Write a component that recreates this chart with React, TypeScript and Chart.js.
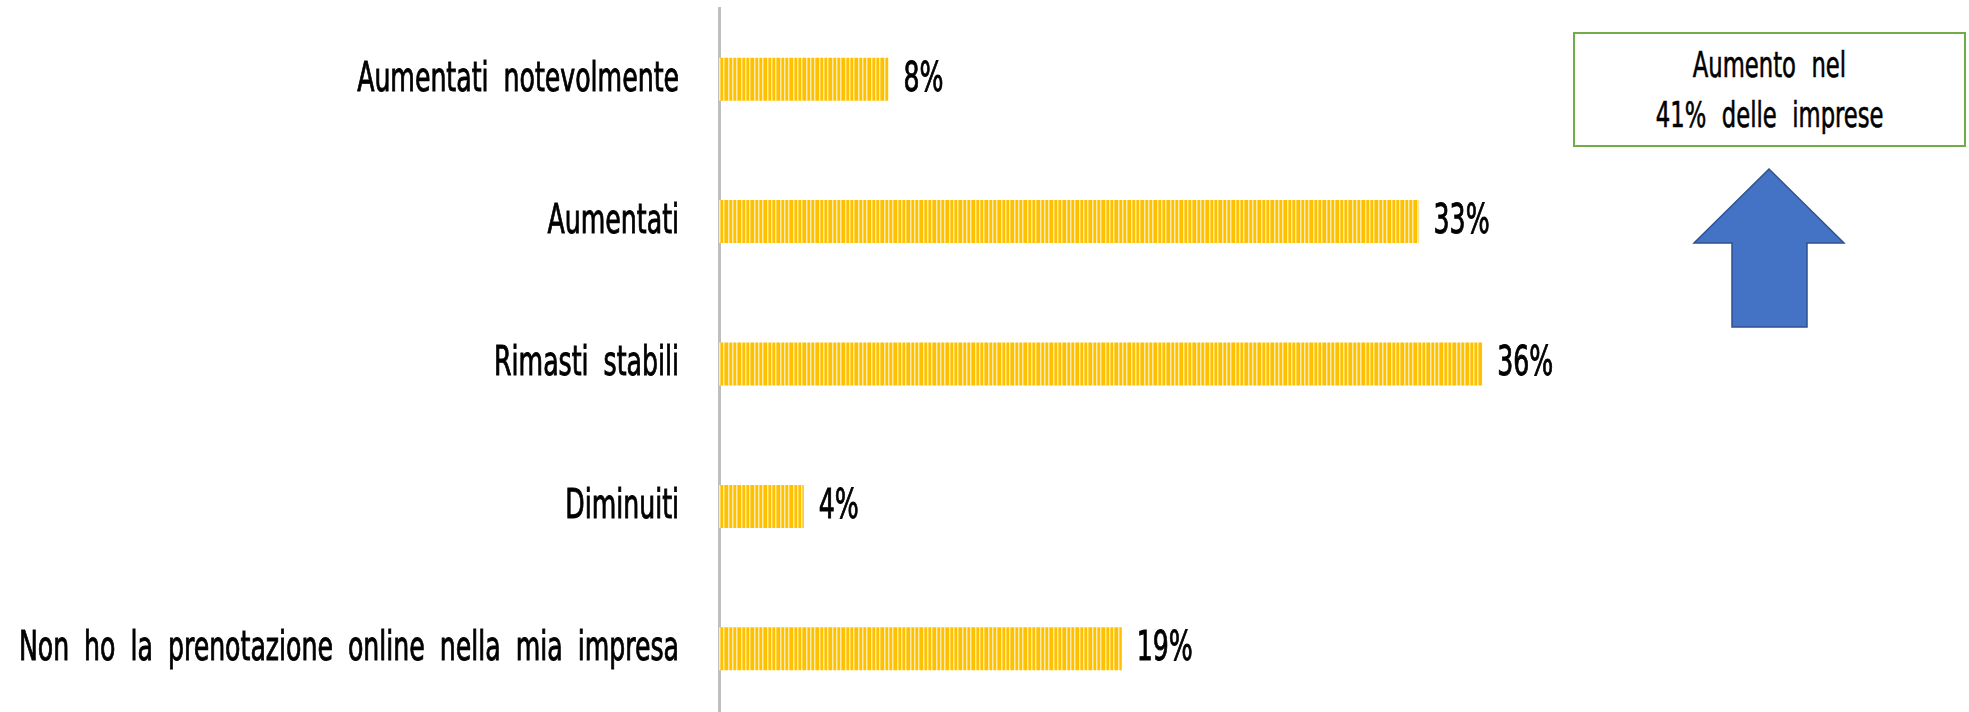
import React, { useEffect, useRef } from "react";
import { Chart, registerables } from "chart.js";

Chart.register(...registerables);

const categories = [
  "Aumentati notevolmente",
  "Aumentati",
  "Rimasti stabili",
  "Diminuiti",
  "Non ho la prenotazione online nella mia impresa",
];
const values = [8, 33, 36, 4, 19];
const calloutLines = ["Aumento nel", "41% delle imprese"];

const FONT = '"DejaVu Sans Condensed", "Liberation Sans Narrow", sans-serif';
const SX = 0.7;

function makePattern(ctx: CanvasRenderingContext2D) {
  const c = document.createElement("canvas");
  c.width = 13;
  c.height = 4;
  const g = c.getContext("2d")!;
  g.fillStyle = "#FFC000";
  g.fillRect(0, 0, 13, 4);
  [0, 4, 8].forEach((x) => {
    g.fillStyle = "#FFEBA8";
    g.fillRect(x, 0, 1, 4);
    g.fillStyle = "#FFD44F";
    g.fillRect(x + 1, 0, 1, 4);
  });
  return ctx.createPattern(c, "repeat");
}

function drawNarrow(ctx: any, text: string, x: number, y: number, align: "left" | "right") {
  ctx.save();
  ctx.translate(x, y);
  ctx.scale(SX, 1);
  ctx.font = `40px ${FONT}`;
  try {
    ctx.wordSpacing = "10px";
  } catch (e) {}
  ctx.fillStyle = "#000000";
  ctx.strokeStyle = "#000000";
  ctx.lineWidth = 0.9;
  ctx.textAlign = align;
  ctx.textBaseline = "middle";
  ctx.fillText(text, 0, 0);
  ctx.strokeText(text, 0, 0);
  ctx.restore();
}

const labelPlugin = {
  id: "narrowLabels",
  afterDraw(chart: any) {
    const ctx = chart.ctx;
    const yScale = chart.scales.y;
    const meta = chart.getDatasetMeta(0);
    const labels = chart.data.labels as string[];
    labels.forEach((lab, i) => {
      const y = yScale.getPixelForTick(i);
      drawNarrow(ctx, lab, chart.chartArea.left - 40, y + 1, "right");
    });
    meta.data.forEach((bar: any, i: number) => {
      drawNarrow(ctx, values[i] + "%", bar.x + 15, bar.y + 1, "left");
    });
  },
};

export default function App() {
  const canvasRef = useRef<HTMLCanvasElement | null>(null);

  useEffect(() => {
    const canvas = canvasRef.current!;
    const ctx = canvas.getContext("2d")!;
    const pattern = makePattern(ctx);
    const chart = new Chart(ctx, {
      type: "bar",
      data: {
        labels: categories,
        datasets: [
          {
            data: values,
            backgroundColor: pattern as any,
            borderWidth: 0,
            categoryPercentage: 1,
            barPercentage: 0.302,
          },
        ],
      },
      options: {
        indexAxis: "y",
        responsive: false,
        animation: false,
        layout: { padding: { top: 8, right: 190, bottom: 0, left: 0 } },
        plugins: {
          legend: { display: false },
          tooltip: { enabled: false },
        },
        scales: {
          x: {
            display: false,
            min: 0,
            max: 50,
          },
          y: {
            z: 1,
            grid: { display: false, drawTicks: false },
            border: { display: true, color: "#BFBFBF", width: 3 },
            ticks: { display: false },
            afterFit(scale: any) {
              scale.width = 719;
              scale.paddingTop = 0;
              scale.paddingBottom = 0;
            },
          },
        },
      },
      plugins: [labelPlugin],
    });
    return () => chart.destroy();
  }, []);

  return (
    <div
      style={{
        position: "fixed",
        left: 0,
        top: 0,
        width: 1969,
        height: 712,
        overflow: "hidden",
        background: "#ffffff",
      }}
    >
      <canvas ref={canvasRef} width={1969} height={720} style={{ display: "block" }} />
      <div
        style={{
          position: "absolute",
          left: 1573,
          top: 32,
          width: 393,
          height: 115,
          boxSizing: "border-box",
          border: "2px solid #70AD47",
          background: "#ffffff",
          display: "flex",
          flexDirection: "column",
          alignItems: "center",
          justifyContent: "center",
          fontFamily: FONT,
          fontSize: 36,
          lineHeight: "50px",
          color: "#000000",
          wordSpacing: 12,
          WebkitTextStroke: "0.6px #000000",
        }}
      >
        {calloutLines.map((l) => (
          <div key={l} style={{ transform: `scaleX(${SX})`, whiteSpace: "nowrap" }}>
            {l}
          </div>
        ))}
      </div>
      <svg
        style={{ position: "absolute", left: 0, top: 0 }}
        width={1969}
        height={712}
        pointerEvents="none"
      >
        <polygon
          points="1769,169 1844,243 1807,243 1807,327 1732,327 1732,243 1694,243"
          fill="#4472C4"
          stroke="#2F528F"
          strokeWidth={1.5}
        />
      </svg>
    </div>
  );
}
